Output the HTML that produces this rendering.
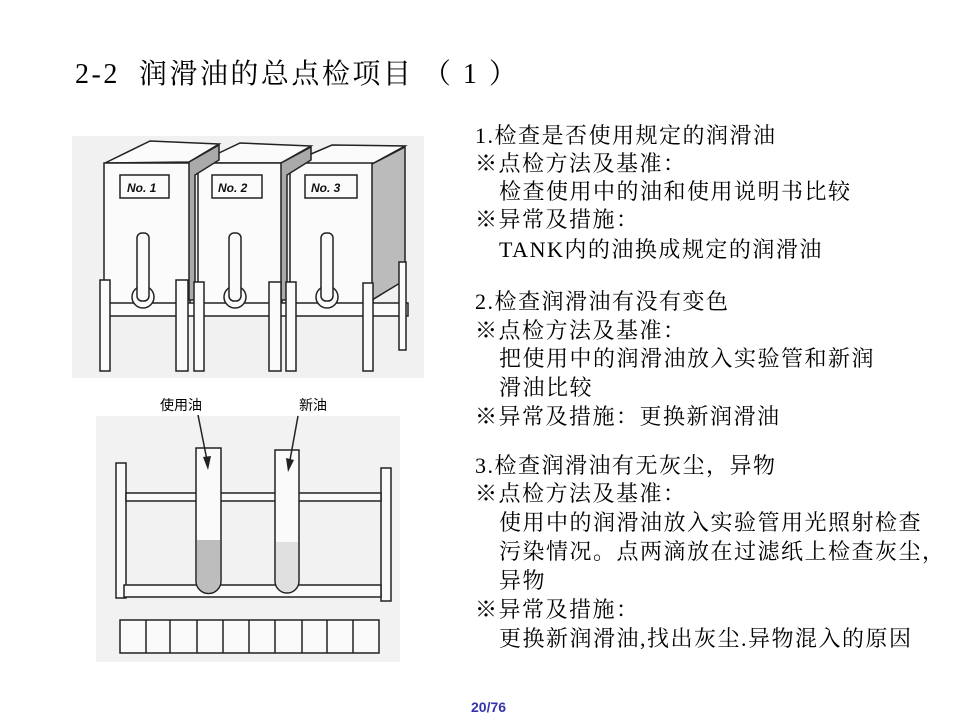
<!DOCTYPE html>
<html><head><meta charset="utf-8"><style>
body{margin:0;width:960px;height:720px;background:#fff;position:relative;overflow:hidden;font-family:"Liberation Serif","Noto Serif CJK SC","Noto Sans CJK SC",serif;color:#000}
.t{position:absolute;font-size:22px;line-height:26px;letter-spacing:1.5px;white-space:nowrap}
</style></head><body>
<div class="t" style="left:75px;top:58px;font-size:28px;line-height:34px;letter-spacing:2.5px">2-2&nbsp; 润滑油的总点检项目 （ 1 ）</div>

<svg style="position:absolute;left:0;top:0" width="960" height="720">
<rect x="72" y="136" width="352" height="242" fill="#f1f1f1"/>
<g fill="#fbfbfb" stroke="#222" stroke-width="1.5">
 <polygon points="105,163 150,141 219,144 189,162"/>
 <polygon points="198,163 240,143 311,146 281,163"/>
 <polygon points="290,163 332,145 405,146 372,164"/>
 <rect x="104" y="163" width="86" height="150"/>
 <rect x="198" y="163" width="84" height="150"/>
 <rect x="290" y="163" width="83" height="150"/>
 <polygon points="372,164 405,147 405,280 372,300" fill="#bbb"/>
 <polygon points="189,162 219,145 219,160 195,175 195,300 189,300" fill="#aaa"/>
 <polygon points="281,163 311,147 311,160 287,175 287,300 281,300" fill="#aaa"/>
 <rect x="120" y="175" width="49" height="23"/>
 <rect x="212" y="175" width="50" height="23"/>
 <rect x="305" y="175" width="52" height="23"/>
 <rect x="108" y="303" width="300" height="13"/>
 <circle cx="143" cy="297" r="11"/><circle cx="235" cy="297" r="11"/><circle cx="327" cy="297" r="11"/>
 <rect x="137" y="233" width="12" height="68" rx="5"/>
 <rect x="229" y="233" width="12" height="68" rx="5"/>
 <rect x="321" y="233" width="12" height="68" rx="5"/>
 <rect x="100" y="280" width="10" height="91"/>
 <rect x="176" y="280" width="12" height="91"/>
 <rect x="194" y="282" width="10" height="89"/>
 <rect x="269" y="282" width="12" height="89"/>
 <rect x="286" y="282" width="10" height="89"/>
 <rect x="363" y="283" width="10" height="88"/>
 <rect x="399" y="262" width="7" height="88"/>
</g>
<g font-family="Liberation Sans" font-style="italic" font-weight="bold" font-size="12" fill="#111">
 <text x="127" y="192">No. 1</text><text x="218" y="192">No. 2</text><text x="311" y="192">No. 3</text>
</g>

<rect x="96" y="416" width="304" height="246" fill="#f2f2f2"/>
<g fill="#fafafa" stroke="#222" stroke-width="1.5">
 <rect x="116" y="463" width="10" height="135"/>
 <rect x="381" y="468" width="10" height="133"/>
 <rect x="126" y="493" width="255" height="8"/>
 <rect x="124" y="585" width="257" height="12"/>
 <path d="M196,448 h25 v133 a12.5,12.5 0 0 1 -25,0z"/>
 <path d="M275,450 h24 v131 a12,12 0 0 1 -24,0z"/>
 <path d="M197,540 h23 v41 a11.5,11.5 0 0 1 -23,0z" fill="#bdbdbd" stroke="none"/>
 <path d="M276,542 h22 v39 a11,11 0 0 1 -22,0z" fill="#e0e0e0" stroke="none"/>
 <rect x="120" y="620" width="259" height="33"/>
</g>
<g stroke="#222" stroke-width="1.5">
 <line x1="146" y1="620" x2="146" y2="653"/><line x1="170" y1="620" x2="170" y2="653"/><line x1="197" y1="620" x2="197" y2="653"/><line x1="223" y1="620" x2="223" y2="653"/><line x1="249" y1="620" x2="249" y2="653"/><line x1="275" y1="620" x2="275" y2="653"/><line x1="302" y1="620" x2="302" y2="653"/><line x1="327" y1="620" x2="327" y2="653"/><line x1="353" y1="620" x2="353" y2="653"/>
 <line x1="198" y1="415" x2="207" y2="460"/><line x1="298" y1="416" x2="290" y2="460"/>
</g>
<polygon points="203,457 211,456 208,470" fill="#222"/>
<polygon points="286,458 294,460 288,472" fill="#222"/>
<g font-family="Liberation Sans, Noto Sans CJK SC, sans-serif" font-size="14" fill="#000">
 <text x="160" y="410">使用油</text><text x="299" y="410">新油</text>
</g>
</svg>

<div class="t" style="left:475px;top:123px">1.检查是否使用规定的润滑油</div>
<div class="t" style="left:475px;top:151px">※点检方法及基准：</div>
<div class="t" style="left:499px;top:179px">检查使用中的油和使用说明书比较</div>
<div class="t" style="left:475px;top:207px">※异常及措施：</div>
<div class="t" style="left:499px;top:237px">TANK内的油换成规定的润滑油</div>

<div class="t" style="left:475px;top:289px">2.检查润滑油有没有变色</div>
<div class="t" style="left:475px;top:318px">※点检方法及基准：</div>
<div class="t" style="left:499px;top:346px">把使用中的润滑油放入实验管和新润</div>
<div class="t" style="left:499px;top:375px">滑油比较</div>
<div class="t" style="left:475px;top:404px">※异常及措施：更换新润滑油</div>

<div class="t" style="left:475px;top:453px">3.检查润滑油有无灰尘，异物</div>
<div class="t" style="left:475px;top:481px">※点检方法及基准：</div>
<div class="t" style="left:499px;top:510px">使用中的润滑油放入实验管用光照射检查</div>
<div class="t" style="left:499px;top:539px">污染情况。点两滴放在过滤纸上检查灰尘，</div>
<div class="t" style="left:499px;top:568px">异物</div>
<div class="t" style="left:475px;top:597px">※异常及措施：</div>
<div class="t" style="left:499px;top:626px">更换新润滑油,找出灰尘.异物混入的原因</div>

<div style="position:absolute;left:471px;top:699px;font:bold 14px 'Liberation Sans',sans-serif;color:#3333aa">20/76</div>
</body></html>
